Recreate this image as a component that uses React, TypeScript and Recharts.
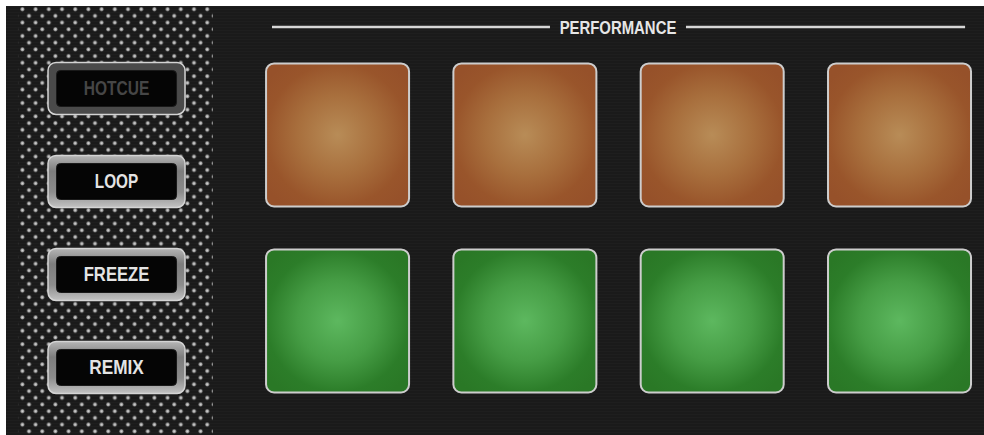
import React from 'react'
import {
  ScatterChart,
  Scatter,
  XAxis,
  YAxis,
  ReferenceArea,
  ReferenceLine,
  ReferenceDot
} from 'recharts'

// performance pad grid: 4 columns, 2 rows, colour per row
const padColumns = [1, 2, 3, 4]
const padRows = [1, 2]
const padColors = ['orange', 'green']

// mode buttons down the left strip (slot 1..4), only HOTCUE is unlit
const buttonLabels = ['HOTCUE', 'LOOP', 'FREEZE', 'REMIX']
const buttonLit = [false, true, true, true]

const sectionTitle = 'PERFORMANCE'

// chart frame
const W = 978
const H = 429
const X_DOMAIN: [number, number] = [-0.77, 4.451]
const Y_DOMAIN: [number, number] = [0.113, 4.726]
const BUTTON_COL = -0.18
const HEADER_Y = 0.339
const FONT = '"Liberation Sans", Arial, sans-serif'

const PAD = 143
const BTN_W = 137
const BTN_H = 52

const pads = padRows.flatMap((row, ri) =>
  padColumns.map(col => ({ x: col, y: row * 2 - 0.5, color: padColors[ri] }))
)
const buttons = buttonLabels.map((label, i) => ({
  x: BUTTON_COL,
  y: i + 1,
  label,
  lit: buttonLit[i]
}))

// condensed look: squeeze bold text to ~11px per letter
function CondensedText(props: any) {
  const { x, y, value, fill, size, perChar } = props
  return (
    <text
      x={x}
      y={y}
      textAnchor="middle"
      fontFamily={FONT}
      fontWeight={700}
      fontSize={size}
      fill={fill}
      textLength={value.length * perChar - 1}
      lengthAdjust="spacingAndGlyphs"
    >
      {value}
    </text>
  )
}

function PadShape(props: any) {
  const { cx, cy, payload } = props
  return (
    <rect
      x={cx - PAD / 2}
      y={cy - PAD / 2}
      width={PAD}
      height={PAD}
      rx={8}
      fill={`url(#pad-${payload.color})`}
      stroke="#cdcdcd"
      strokeWidth={2}
    />
  )
}

function ButtonShape(props: any) {
  const { cx, cy, payload } = props
  const lit = payload.lit
  return (
    <g>
      <rect
        x={cx - BTN_W / 2}
        y={cy - BTN_H / 2}
        width={BTN_W}
        height={BTN_H}
        rx={8}
        fill={lit ? 'url(#metal)' : '#4a4a4a'}
        stroke="#d4d4d4"
        strokeWidth={1.5}
      />
      <rect
        x={cx - 60}
        y={cy - 18}
        width={120}
        height={36}
        rx={4}
        fill="#050505"
        stroke="#1a1a1a"
      />
      <CondensedText
        x={cx}
        y={cy + 7}
        value={payload.label}
        size={19.5}
        perChar={11.1}
        fill={lit ? '#e4e4e4' : '#464646'}
      />
    </g>
  )
}

function TitleShape(props: any) {
  const { cx, cy } = props
  return (
    <CondensedText x={cx} y={cy + 7} value={sectionTitle} size={19} perChar={10.7} fill="#e6e6e6" />
  )
}

export default function App() {
  return (
    <div style={{ background: '#fff', paddingTop: 6, paddingLeft: 6, width: W, height: H }}>
      <style>{'body{margin:0}'}</style>
      <div
        style={{
          width: W,
          height: H,
          background: 'repeating-linear-gradient(180deg, #1e1e1e 0px, #1e1e1e 1px, #1a1a1a 1px, #1a1a1a 3px)'
        }}
      >
        <ScatterChart width={W} height={H} margin={{ top: 0, right: 0, bottom: 0, left: 0 }}>
          <defs>
            <radialGradient id="pad-orange" cx="50%" cy="50%" r="62%">
              <stop offset="0%" stopColor="#b88c57" />
              <stop offset="45%" stopColor="#a86f3d" />
              <stop offset="80%" stopColor="#99552b" />
              <stop offset="100%" stopColor="#96512a" />
            </radialGradient>
            <radialGradient id="pad-green" cx="50%" cy="50%" r="62%">
              <stop offset="0%" stopColor="#5db85f" />
              <stop offset="45%" stopColor="#469d45" />
              <stop offset="80%" stopColor="#2c7d29" />
              <stop offset="100%" stopColor="#2a7826" />
            </radialGradient>
            <linearGradient id="metal" x1="0" y1="0" x2="0" y2="1">
              <stop offset="0%" stopColor="#b5b5b5" />
              <stop offset="30%" stopColor="#7d7d7d" />
              <stop offset="70%" stopColor="#8c8c8c" />
              <stop offset="100%" stopColor="#c2c2c2" />
            </linearGradient>
            <radialGradient id="dot">
              <stop offset="0%" stopColor="#dadada" />
              <stop offset="60%" stopColor="#a8a8a8" />
              <stop offset="100%" stopColor="#5a5a5a" />
            </radialGradient>
            <pattern id="dots" width={13.2} height={13.4} patternUnits="userSpaceOnUse">
              <circle cx={3.2} cy={3.2} r={2.2} fill="url(#dot)" />
              <circle cx={9.8} cy={9.9} r={2.2} fill="url(#dot)" />
            </pattern>
          </defs>
          <XAxis type="number" dataKey="x" domain={X_DOMAIN} allowDataOverflow hide />
          <YAxis type="number" dataKey="y" domain={Y_DOMAIN} allowDataOverflow reversed hide />
          <ReferenceArea
            x1={-0.706}
            x2={0.335}
            y1={Y_DOMAIN[0]}
            y2={Y_DOMAIN[1]}
            fill="url(#dots)"
            fillOpacity={1}
            stroke="none"
          />
          <ReferenceLine
            segment={[{ x: 0.65, y: HEADER_Y }, { x: 2.134, y: HEADER_Y }]}
            stroke="#d6d6d6"
            strokeWidth={2.5}
          />
          <ReferenceLine
            segment={[{ x: 2.86, y: HEADER_Y }, { x: 4.35, y: HEADER_Y }]}
            stroke="#d6d6d6"
            strokeWidth={2.5}
          />
          <ReferenceDot x={2.497} y={HEADER_Y} r={0} shape={TitleShape} />
          <Scatter data={pads} shape={PadShape} isAnimationActive={false} />
          <Scatter data={buttons} shape={ButtonShape} isAnimationActive={false} />
        </ScatterChart>
      </div>
    </div>
  )
}
